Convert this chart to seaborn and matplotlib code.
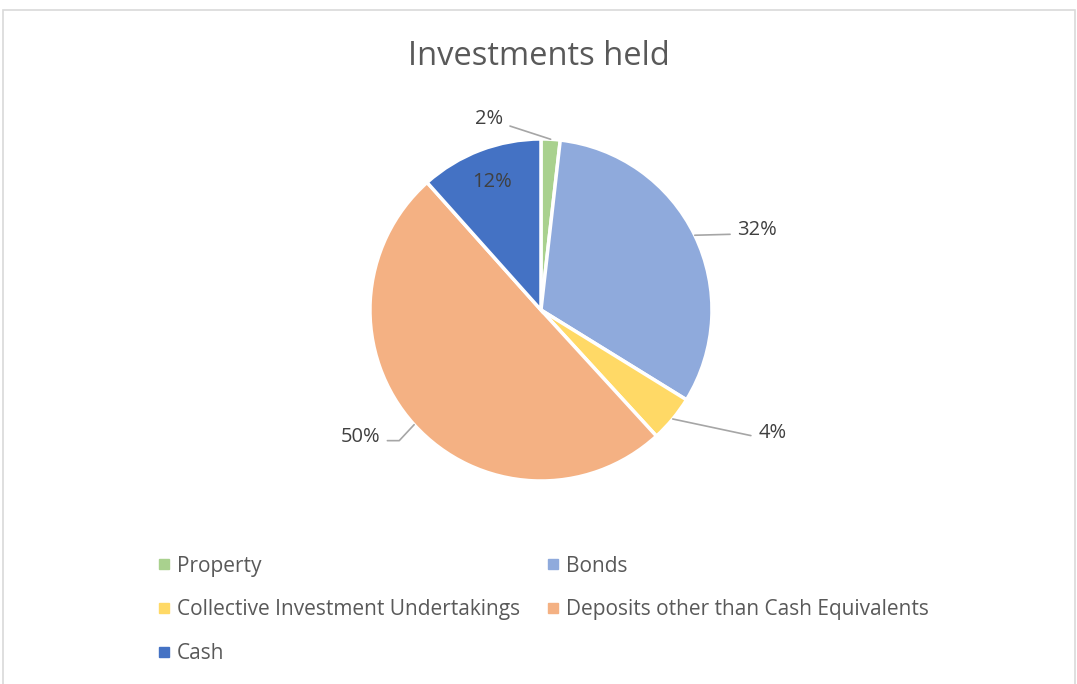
import matplotlib.pyplot as plt
import seaborn as sns
import numpy as np
from matplotlib.lines import Line2D
from matplotlib.patches import Rectangle

# Data
categories = ["Property", "Bonds", "Collective Investment Undertakings",
              "Deposits other than Cash Equivalents", "Cash"]
shares = [1.8, 32.0, 4.4, 50.2, 11.6]
colors = ["#A9D18E", "#8FAADC", "#FFD966", "#F4B183", "#4472C4"]

# label placement: offset of text from the wedge edge (data units), leader angle
label_offsets = [(-0.28, 0.12), (0.25, 0.03), (0.50, -0.08), (-0.20, -0.07), None]
leader_angles = [-18, 0, -12, 47, None]

sns.set_theme(style="white")
plt.rcParams["font.family"] = ["Open Sans", "DejaVu Sans"]
text_color = "#595959"

fig = plt.figure(figsize=(10.77, 6.84), dpi=100)
ax = fig.add_axes([0.3435, 0.2968, 0.3176, 0.5])

palette = sns.color_palette(colors)
wedges, _ = ax.pie(shares, colors=palette, startangle=90, counterclock=False,
                   radius=1.0, wedgeprops=dict(edgecolor="white", linewidth=2.5))
ax.set_aspect("equal")
ax.set_xlim(-1.0, 1.0)
ax.set_ylim(-1.0, 1.0)

for w, val, off, ang in zip(wedges, shares, label_offsets, leader_angles):
    mid = np.deg2rad((w.theta1 + w.theta2) / 2)
    ux, uy = np.cos(mid), np.sin(mid)
    txt = f"{round(val):.0f}%"
    if off is None:
        # the cash label sits inside its slice
        ax.text(0.8 * ux, 0.8 * uy, txt, ha="center", va="center",
                fontsize=14.5, color="#404040")
        continue
    tx, ty = ux + off[0], uy + off[1]
    ha = "left" if off[0] > 0 else "right"
    if ang == 0:
        cs = "arc3"
    else:
        cs = f"angle,angleA=0,angleB={ang},rad=0"
    ax.annotate(txt, xy=(ux, uy), xytext=(tx, ty), ha=ha, va="center",
                fontsize=14.5, color="#404040", annotation_clip=False,
                arrowprops=dict(arrowstyle="-", color="#a6a6a6", lw=1.2,
                                connectionstyle=cs, shrinkA=3, shrinkB=0,
                                relpos=(1.0 if ha == "right" else 0.0, 0.3)))

fig.text(0.5, 0.918, "Investments held", ha="center", va="center",
         fontsize=23.5, color=text_color)

# legend laid out row by row like the reference
order = [0, 2, 4, 1, 3]
handles = [Line2D([], [], marker="s", linestyle="", markersize=7,
                  color=palette[i]) for i in order]
labels = [categories[i] for i in order]
fig.legend(handles, labels, ncol=2, loc="upper left",
           bbox_to_anchor=(0.137, 0.2), frameon=False, fontsize=15,
           labelcolor=text_color, handletextpad=0.2, handlelength=0.8,
           columnspacing=1.2, labelspacing=1.1, borderaxespad=0)

fig.patches.append(Rectangle((3 / 1077, -0.02), 1 - 5 / 1077, (684 - 10) / 684 + 0.02,
                             transform=fig.transFigure, fill=False,
                             edgecolor="#d9d9d9", linewidth=1.2))

fig.savefig("out.png", dpi=100)
